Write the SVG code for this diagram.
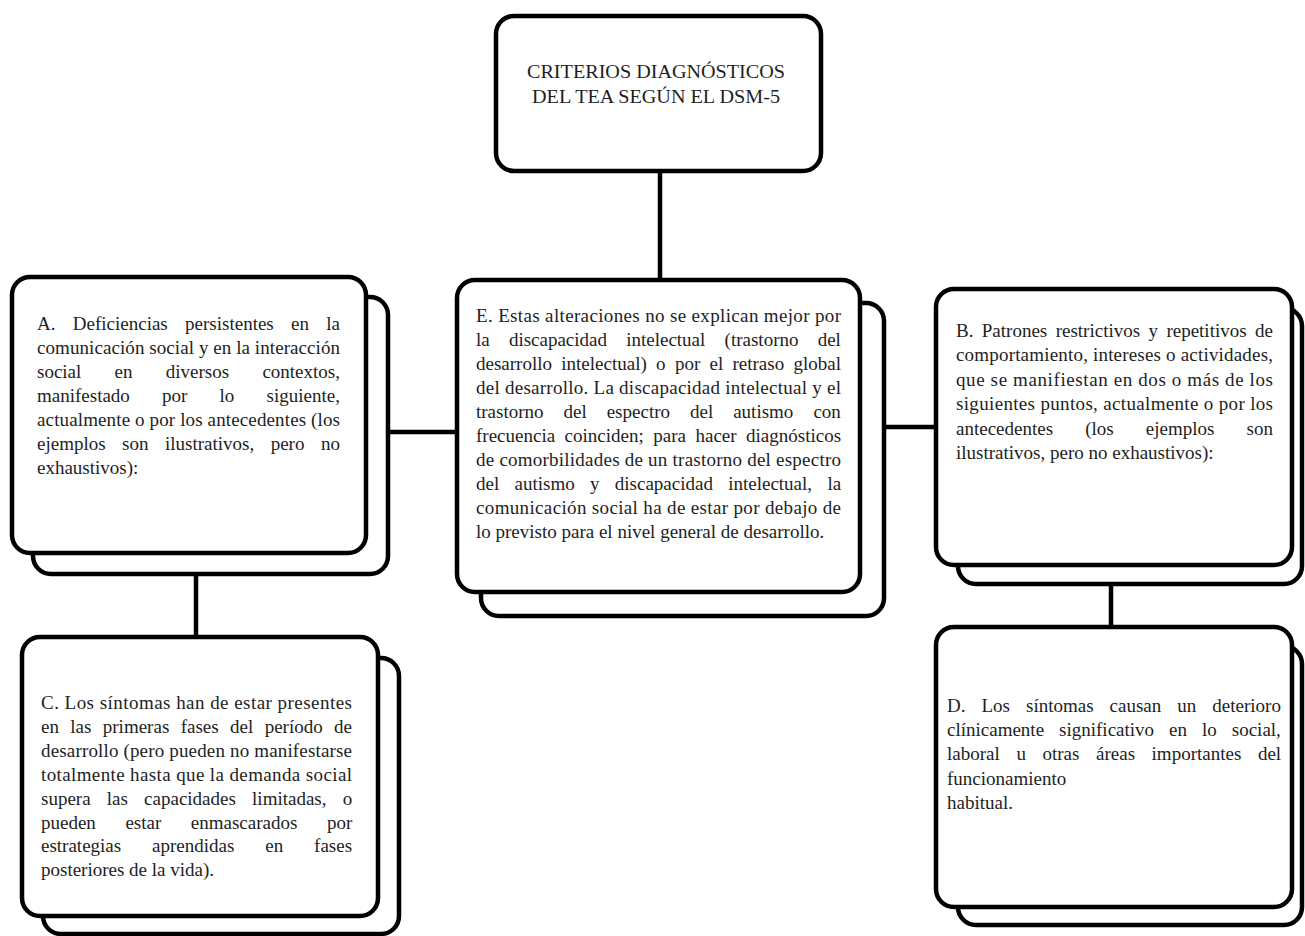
<svg xmlns="http://www.w3.org/2000/svg" width="1305" height="936" viewBox="0 0 1305 936">
<style>
.box{fill:#fff;stroke:#000;stroke-width:4.5}
.con{stroke:#000;stroke-width:4.5;fill:none}
.t{font-family:"Liberation Serif","Times New Roman",serif;font-size:19px;fill:#1e1e1e}
.c{text-anchor:middle}
</style>
<rect width="1305" height="936" fill="#fff"/>
<g id="connectors">
<line class="con" x1="660" y1="171" x2="660" y2="280"/>
<line class="con" x1="388" y1="432" x2="457" y2="432"/>
<line class="con" x1="884" y1="427" x2="936" y2="427"/>
<line class="con" x1="196" y1="574" x2="196" y2="637"/>
<line class="con" x1="1111" y1="584" x2="1111" y2="627"/>
</g>
<g id="title">
<rect class="box" x="496" y="16" width="325" height="155" rx="18"/>
<text class="t c" x="656" y="78" textLength="258" lengthAdjust="spacingAndGlyphs">CRITERIOS DIAGNÓSTICOS</text>
<text class="t c" x="656" y="103" textLength="248" lengthAdjust="spacingAndGlyphs">DEL TEA SEGÚN EL DSM-5</text>
</g>
<g id="nodeA">
<rect class="box" x="33" y="297" width="355" height="277" rx="18"/>
<rect class="box" x="12" y="277" width="354" height="276" rx="18"/>
<text class="t" y="330"><tspan x="37">A.</tspan> <tspan x="72.8">Deficiencias</tspan> <tspan x="185.1">persistentes</tspan> <tspan x="291.1">en</tspan> <tspan x="326.3">la</tspan></text>
<text class="t" x="37" y="354" textLength="303" lengthAdjust="spacing">comunicación social y en la interacción</text>
<text class="t" y="378"><tspan x="37">social</tspan> <tspan x="114.6">en</tspan> <tspan x="165.8">diversos</tspan> <tspan x="262.4">contextos,</tspan></text>
<text class="t" y="402"><tspan x="37">manifestado</tspan> <tspan x="162.1">por</tspan> <tspan x="219.6">lo</tspan> <tspan x="266.6">siguiente,</tspan></text>
<text class="t" x="37" y="426" textLength="303" lengthAdjust="spacing">actualmente o por los antecedentes (los</text>
<text class="t" y="450"><tspan x="37">ejemplos</tspan> <tspan x="122.1">son</tspan> <tspan x="165">ilustrativos,</tspan> <tspan x="270.7">pero</tspan> <tspan x="321">no</tspan></text>
<text class="t" x="37" y="474">exhaustivos):</text>
</g>
<g id="nodeE">
<rect class="box" x="481" y="303" width="403" height="313" rx="18"/>
<rect class="box" x="457" y="280" width="403" height="312" rx="18"/>
<text class="t" x="476" y="322" textLength="365" lengthAdjust="spacing">E. Estas alteraciones no se explican mejor por</text>
<text class="t" y="346"><tspan x="476">la</tspan> <tspan x="508.9">discapacidad</tspan> <tspan x="626.2">intelectual</tspan> <tspan x="724.6">(trastorno</tspan> <tspan x="817.7">del</tspan></text>
<text class="t" y="370"><tspan x="476">desarrollo</tspan> <tspan x="561.3">intelectual)</tspan> <tspan x="656.1">o</tspan> <tspan x="674.9">por</tspan> <tspan x="709.5">el</tspan> <tspan x="732.5">retraso</tspan> <tspan x="793.5">global</tspan></text>
<text class="t" x="476" y="394" textLength="365" lengthAdjust="spacing">del desarrollo. La discapacidad intelectual y el</text>
<text class="t" y="418"><tspan x="476">trastorno</tspan> <tspan x="563.5">del</tspan> <tspan x="606.7">espectro</tspan> <tspan x="690">del</tspan> <tspan x="733.2">autismo</tspan> <tspan x="813.4">con</tspan></text>
<text class="t" y="442"><tspan x="476">frecuencia</tspan> <tspan x="564.6">coinciden;</tspan> <tspan x="653.3">para</tspan> <tspan x="695.5">hacer</tspan> <tspan x="746.1">diagnósticos</tspan></text>
<text class="t" x="476" y="466" textLength="365" lengthAdjust="spacing">de comorbilidades de un trastorno del espectro</text>
<text class="t" y="490"><tspan x="476">del</tspan> <tspan x="514.5">autismo</tspan> <tspan x="590">y</tspan> <tspan x="614.8">discapacidad</tspan> <tspan x="728.2">intelectual,</tspan> <tspan x="827.4">la</tspan></text>
<text class="t" x="476" y="514" textLength="365" lengthAdjust="spacing">comunicación social ha de estar por debajo de</text>
<text class="t" x="476" y="538">lo previsto para el nivel general de desarrollo.</text>
</g>
<g id="nodeB">
<rect class="box" x="958" y="308" width="344" height="276" rx="18"/>
<rect class="box" x="936" y="289" width="356" height="276" rx="18"/>
<text class="t" y="337"><tspan x="956">B.</tspan> <tspan x="981.8">Patrones</tspan> <tspan x="1055.7">restrictivos</tspan> <tspan x="1148.5">y</tspan> <tspan x="1166.4">repetitivos</tspan> <tspan x="1255.1">de</tspan></text>
<text class="t" x="956" y="361.4" textLength="317" lengthAdjust="spacing">comportamiento, intereses o actividades,</text>
<text class="t" x="956" y="385.8" textLength="317" lengthAdjust="spacing">que se manifiestan en dos o más de los</text>
<text class="t" x="956" y="410.2" textLength="317" lengthAdjust="spacing">siguientes puntos, actualmente o por los</text>
<text class="t" y="434.6"><tspan x="956">antecedentes</tspan> <tspan x="1085.2">(los</tspan> <tspan x="1145.8">ejemplos</tspan> <tspan x="1246.5">son</tspan></text>
<text class="t" x="956" y="459">ilustrativos, pero no exhaustivos):</text>
</g>
<g id="nodeC">
<rect class="box" x="43" y="658" width="356" height="276" rx="18"/>
<rect class="box" x="22" y="637" width="356" height="279" rx="18"/>
<text class="t" x="41" y="709" textLength="311" lengthAdjust="spacing">C. Los síntomas han de estar presentes</text>
<text class="t" y="732.9"><tspan x="41">en</tspan> <tspan x="70.3">las</tspan> <tspan x="102.8">primeras</tspan> <tspan x="180.7">fases</tspan> <tspan x="230.1">del</tspan> <tspan x="264.7">período</tspan> <tspan x="334.1">de</tspan></text>
<text class="t" x="41" y="756.8" textLength="311" lengthAdjust="spacing">desarrollo (pero pueden no manifestarse</text>
<text class="t" x="41" y="780.7" textLength="311" lengthAdjust="spacing">totalmente hasta que la demanda social</text>
<text class="t" y="804.6"><tspan x="41">supera</tspan> <tspan x="106.8">las</tspan> <tspan x="144.1">capacidades</tspan> <tspan x="252.1">limitadas,</tspan> <tspan x="342.7">o</tspan></text>
<text class="t" y="828.5"><tspan x="41">pueden</tspan> <tspan x="125.4">estar</tspan> <tspan x="190.8">enmascarados</tspan> <tspan x="326.9">por</tspan></text>
<text class="t" y="852.4"><tspan x="41">estrategias</tspan> <tspan x="152.1">aprendidas</tspan> <tspan x="265.3">en</tspan> <tspan x="314.1">fases</tspan></text>
<text class="t" x="41" y="876.3">posteriores de la vida).</text>
</g>
<g id="nodeD">
<rect class="box" x="958" y="646" width="344" height="279" rx="18"/>
<rect class="box" x="936" y="627" width="356" height="280" rx="18"/>
<text class="t" y="712"><tspan x="947">D.</tspan> <tspan x="981.5">Los</tspan> <tspan x="1026">síntomas</tspan> <tspan x="1109.6">causan</tspan> <tspan x="1177.3">un</tspan> <tspan x="1212.3">deterioro</tspan></text>
<text class="t" y="736.2"><tspan x="947">clínicamente</tspan> <tspan x="1059.1">significativo</tspan> <tspan x="1169.1">en</tspan> <tspan x="1202">lo</tspan> <tspan x="1231.8">social,</tspan></text>
<text class="t" y="760.4"><tspan x="947">laboral</tspan> <tspan x="1016.4">u</tspan> <tspan x="1042.5">otras</tspan> <tspan x="1096">áreas</tspan> <tspan x="1151.6">importantes</tspan> <tspan x="1257.9">del</tspan></text>
<text class="t" x="947" y="784.6">funcionamiento</text>
<text class="t" x="947" y="808.8">habitual.</text>
</g>
</svg>
